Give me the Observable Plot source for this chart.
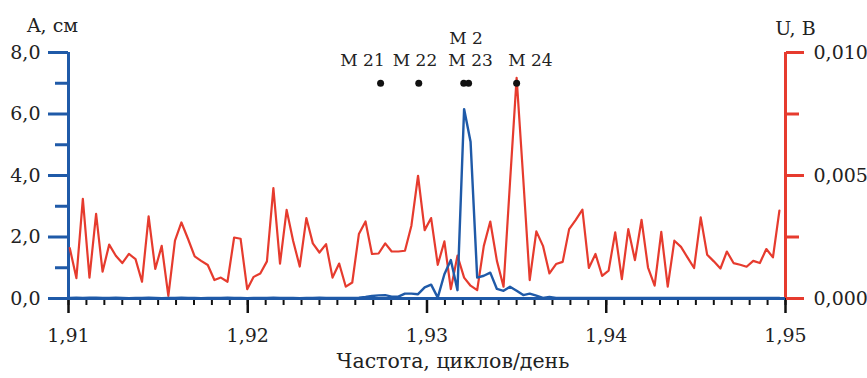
<!DOCTYPE html>
<html><head><meta charset="utf-8">
<script src="https://cdn.jsdelivr.net/npm/d3@7"></script>
<script src="https://cdn.jsdelivr.net/npm/@observablehq/plot@0.6"></script>
<style>body{margin:0;background:#fff} svg{display:block}</style>
</head><body><div id="chart"></div>
<script>
// Frequency grid (cycles/day)
const freqs = [
1.91007,1.91044,1.91080,1.91117,1.91154,1.91190,1.91227,1.91264,1.91300,1.91337,
1.91374,1.91410,1.91447,1.91484,1.91520,1.91557,1.91594,1.91630,1.91667,1.91704,
1.91740,1.91777,1.91814,1.91850,1.91887,1.91924,1.91960,1.91997,1.92033,1.92070,
1.92107,1.92143,1.92180,1.92217,1.92253,1.92290,1.92327,1.92363,1.92400,1.92437,
1.92473,1.92510,1.92547,1.92583,1.92620,1.92657,1.92693,1.92730,1.92767,1.92803,
1.92840,1.92877,1.92913,1.92950,1.92987,1.93023,1.93060,1.93097,1.93133,1.93170,
1.93207,1.93243,1.93280,1.93317,1.93353,1.93390,1.93427,1.93463,1.93500,1.93537,
1.93573,1.93610,1.93647,1.93683,1.93720,1.93757,1.93793,1.93830,1.93867,1.93903,
1.93940,1.93977,1.94013,1.94050,1.94087,1.94123,1.94160,1.94197,1.94233,1.94270,
1.94307,1.94343,1.94380,1.94417,1.94453,1.94490,1.94527,1.94563,1.94600,1.94637,
1.94673,1.94710,1.94747,1.94783,1.94820,1.94857,1.94893,1.94930,1.94966];

// U, mV (red series, right axis in V)
const uMillivolts = [
2.05,0.83,4.05,0.85,3.44,1.09,2.19,1.74,1.44,1.81,
1.60,0.68,3.34,1.20,2.14,0.11,2.35,3.09,2.42,1.71,
1.53,1.36,0.75,0.85,0.68,2.48,2.43,0.38,0.88,1.02,
1.51,4.49,1.42,3.60,2.35,1.30,3.27,2.24,1.87,2.21,
0.85,1.42,0.48,0.65,2.62,3.13,1.81,1.83,2.24,1.91,
1.91,1.94,2.96,4.99,2.78,3.27,1.37,2.32,0.38,1.74,
0.85,0.52,0.34,2.14,3.13,1.53,0.48,4.71,8.97,4.87,
0.75,2.73,2.14,1.02,1.40,1.49,2.82,3.20,3.61,1.24,
1.81,0.92,1.13,2.69,0.79,2.82,1.56,3.20,1.26,0.52,
2.71,0.48,2.35,2.10,1.67,1.24,3.30,1.78,1.51,1.22,
1.91,1.44,1.37,1.29,1.53,1.44,2.01,1.67,3.57];

// A, cm (blue series, left axis)
const aCm = [
0.02,0.03,0.02,0.03,0.03,0.02,0.02,0.03,0.02,0.01,
0.02,0.02,0.03,0.02,0.01,0.02,0.02,0.03,0.02,0.02,
0.01,0.02,0.02,0.02,0.03,0.02,0.02,0.01,0.02,0.02,
0.02,0.03,0.02,0.02,0.02,0.01,0.02,0.02,0.03,0.02,
0.02,0.02,0.02,0.02,0.03,0.05,0.08,0.10,0.11,0.06,
0.06,0.16,0.16,0.14,0.36,0.45,0.03,0.79,1.25,0.27,
6.16,5.10,0.68,0.74,0.84,0.31,0.25,0.38,0.25,0.11,
0.16,0.09,0.02,0.05,0.02,0.02,0.02,0.02,0.02,0.02,
0.02,0.02,0.02,0.02,0.02,0.02,0.02,0.02,0.02,0.02,
0.02,0.02,0.02,0.02,0.02,0.02,0.02,0.02,0.02,0.02,
0.02,0.02,0.02,0.02,0.02,0.02,0.02,0.02,0.02];

// Tidal constituent markers
const markerFreqs = [1.92741, 1.92954, 1.93205, 1.93232, 1.93500];
const markerLevel = 7.0;
const labelNames = ["M 21", "M 22", "M 23", "M 2", "M 24"];
const labelFreqs = [1.92640, 1.92933, 1.93243, 1.93218, 1.93577];
const labelRows = [0, 0, 0, 1, 0];

// Axes ticks
const xMajor = [1.91, 1.92, 1.93, 1.94, 1.95];
const xMinor = d3.range(0, 41).map(i => 1.91 + i * 0.001);
const leftMajor = [0, 2, 4, 6, 8];
const leftMinor = [1, 3, 5, 7];
const rightMajorV = [0, 0.005, 0.010];
const rightMinorV = [0.0025, 0.0075];

const BLUE = "#1f5aa8";
const RED = "#e63b2e";
const vToA = 800; // 0.010 V on right axis ≡ 8.0 cm on left axis
const comma = (d, n) => d.toFixed(n).replace(".", ",");

const red = freqs.map((f, i) => ({f, u: uMillivolts[i] / 1000}));
const blue = freqs.map((f, i) => ({f, a: aCm[i]}));
const labels = labelNames.map((n, i) => ({n, f: labelFreqs[i], row: labelRows[i]}));

const serif = "DejaVu Serif";

const chart = Plot.plot({
  width: 867, height: 378,
  marginLeft: 68, marginRight: 82, marginTop: 52, marginBottom: 80,
  style: {background: "white", color: "black", fontFamily: serif},
  x: {domain: [1.91, 1.95]},
  y: {domain: [0, 8]},
  marks: [
    Plot.axisX({ticks: xMinor, tickSize: 7, strokeWidth: 2, stroke: "#111", tickFormat: () => "", label: null}),
    Plot.axisX({ticks: xMajor, tickSize: 15, tickPadding: 15, strokeWidth: 2.5, stroke: "#111",
      tickFormat: d => comma(d, 2), fontSize: 19, fontFamily: serif, label: null, fill: "#222"}),
    Plot.axisY({anchor: "left", ticks: leftMinor, tickSize: 13, stroke: BLUE, strokeWidth: 3, tickFormat: () => "", label: null}),
    Plot.axisY({anchor: "left", ticks: leftMajor, tickSize: 20, tickPadding: 8, stroke: BLUE, strokeWidth: 3,
      tickFormat: d => comma(d, 1), fontSize: 19, fontFamily: serif, label: null, fill: "#222"}),
    Plot.axisY({anchor: "right", ticks: rightMinorV.map(v => v * vToA), tickSize: 13, stroke: RED, strokeWidth: 3, tickFormat: () => "", label: null}),
    Plot.axisY({anchor: "right", ticks: rightMajorV.map(v => v * vToA), tickSize: 18, tickPadding: 10, stroke: RED, strokeWidth: 3,
      tickFormat: d => comma(d / vToA, 3), fontSize: 19, fontFamily: serif, label: null, fill: "#222"}),
    Plot.ruleX([1.91], {stroke: BLUE, strokeWidth: 3}),
    Plot.ruleX([1.95], {stroke: RED, strokeWidth: 3}),
    Plot.line(red, {x: "f", y: d => d.u * vToA, stroke: RED, strokeWidth: 2.2}),
    Plot.ruleY([0], {stroke: BLUE, strokeWidth: 3}),
    Plot.line(blue, {x: "f", y: "a", stroke: BLUE, strokeWidth: 2.4}),
    Plot.dot(markerFreqs, {x: d => d, y: () => markerLevel, r: 3.5, fill: "#111", stroke: null}),
    Plot.text(labels.filter(d => d.row === 0), {x: "f", y: () => markerLevel, text: "n", dy: -23,
      fontSize: 17, fontFamily: serif, fill: "#222"}),
    Plot.text(labels.filter(d => d.row === 1), {x: "f", y: () => markerLevel, text: "n", dy: -45,
      fontSize: 17, fontFamily: serif, fill: "#222"}),
    Plot.text(["A, см"], {x: () => 1.91, y: () => 8, dx: -16, dy: -27, fontSize: 19, fontFamily: serif, fill: "#222"}),
    Plot.text(["U, В"], {x: () => 1.95, y: () => 8, dx: 10, dy: -24, fontSize: 19, fontFamily: serif, fill: "#222"}),
    Plot.text(["Частота, циклов/день"], {frameAnchor: "bottom", dx: 26, dy: 69, fontSize: 20.5, fontFamily: serif, fill: "#222"})
  ]
});
document.getElementById("chart").appendChild(chart);
</script>
</body></html>
